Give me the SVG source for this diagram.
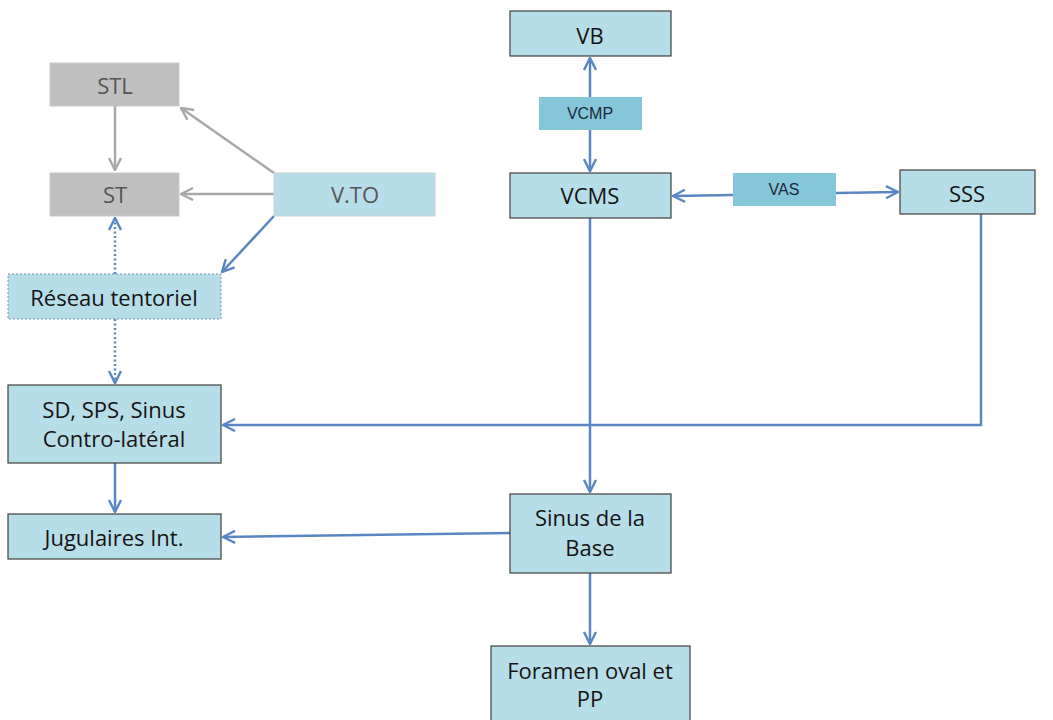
<svg xmlns="http://www.w3.org/2000/svg" width="1053" height="720" viewBox="0 0 1053 720">
<style>
.box{fill:#b7dde8;stroke:#3f3f3f;stroke-width:1.2}
.boxl{fill:#b7dde8;stroke:#c8d4d8;stroke-width:1}
.dot{fill:#b7dde8;stroke:#6f93b8;stroke-width:1;stroke-dasharray:2 2}
.gray{fill:#bfbfbf;stroke:#c9c9c9;stroke-width:1}
.lab{fill:#85c6d8}
.t{font-family:"Open Sans","Noto Sans",sans-serif;font-size:22px;fill:#141414;text-anchor:middle}
.tg{font-family:"Open Sans","Noto Sans",sans-serif;font-size:22px;fill:#555;text-anchor:middle}
.ts{font-family:"Liberation Sans",Arial,sans-serif;font-size:16px;fill:#1a2a3a;text-anchor:middle}
.c{fill:none;stroke:#5a86c4;stroke-width:2.5}
.cg{fill:none;stroke:#a8a8a8;stroke-width:2.5}
.cd{fill:none;stroke:#5a86c4;stroke-width:2.5;stroke-dasharray:2 2.5}
</style>
<defs>
<marker id="a" viewBox="0 0 14 14" refX="13" refY="7" markerWidth="14" markerHeight="14" markerUnits="userSpaceOnUse" orient="auto-start-reverse">
<path d="M1,1 L13,7 L1,13" fill="none" stroke="#5a86c4" stroke-width="2.4"/>
</marker>
<marker id="ag" viewBox="0 0 14 14" refX="13" refY="7" markerWidth="14" markerHeight="14" markerUnits="userSpaceOnUse" orient="auto-start-reverse">
<path d="M1,1 L13,7 L1,13" fill="none" stroke="#a8a8a8" stroke-width="2.4"/>
</marker>
</defs>
<rect width="1053" height="720" fill="#ffffff"/>
<g id="connectors">
<line class="cg" x1="115" y1="105" x2="115" y2="170" marker-end="url(#ag)"/>
<line class="cg" x1="274" y1="173" x2="181" y2="108" marker-end="url(#ag)"/>
<line class="cg" x1="274" y1="194" x2="181" y2="194" marker-end="url(#ag)"/>
<line class="c" x1="274" y1="216" x2="222" y2="272" marker-end="url(#a)"/>
<line class="cd" x1="115" y1="274" x2="115" y2="218" marker-end="url(#a)"/>
<line class="cd" x1="115" y1="319" x2="115" y2="383" marker-end="url(#a)"/>
<line class="c" x1="590" y1="97" x2="590" y2="58" marker-end="url(#a)"/>
<line class="c" x1="590" y1="130" x2="590" y2="171" marker-end="url(#a)"/>
<line class="c" x1="733" y1="195" x2="673" y2="196" marker-end="url(#a)"/>
<line class="c" x1="836" y1="193" x2="898" y2="192" marker-end="url(#a)"/>
<line class="c" x1="590" y1="218" x2="590" y2="492" marker-end="url(#a)"/>
<polyline class="c" points="981,214 981,425 223,425" marker-end="url(#a)"/>
<line class="c" x1="115" y1="463" x2="115" y2="512" marker-end="url(#a)"/>
<line class="c" x1="510" y1="533" x2="223" y2="537" marker-end="url(#a)"/>
<line class="c" x1="590" y1="573" x2="590" y2="644" marker-end="url(#a)"/>
</g>
<g id="STL"><rect class="gray" x="50" y="63" width="129" height="43"/><text class="tg" x="115" y="94">STL</text></g>
<g id="ST"><rect class="gray" x="50" y="173" width="129" height="43"/><text class="tg" x="115" y="203">ST</text></g>
<g id="VTO"><rect class="boxl" x="274" y="173" width="161" height="43"/><text class="tg" x="355" y="203">V.TO</text></g>
<g id="Reseau"><rect class="dot" x="8" y="274" width="213" height="45"/><text class="t" x="114" y="306">Réseau tentoriel</text></g>
<g id="VB"><rect class="box" x="510" y="11" width="161" height="45"/><text class="t" x="590" y="44">VB</text></g>
<g id="VCMP"><rect class="lab" x="539" y="97" width="103" height="33"/><text class="ts" x="590" y="119">VCMP</text></g>
<g id="VCMS"><rect class="box" x="510" y="173" width="161" height="45"/><text class="t" x="590" y="204">VCMS</text></g>
<g id="VAS"><rect class="lab" x="733" y="173" width="103" height="33"/><text class="ts" x="784" y="195">VAS</text></g>
<g id="SSS"><rect class="box" x="900" y="170" width="135" height="44"/><text class="t" x="967" y="202">SSS</text></g>
<g id="SD"><rect class="box" x="8" y="385" width="213" height="78"/><text class="t" x="114" y="418">SD, SPS, Sinus</text><text class="t" x="114" y="447">Contro-latéral</text></g>
<g id="Jugulaires"><rect class="box" x="8" y="514" width="213" height="45"/><text class="t" x="114" y="546">Jugulaires Int.</text></g>
<g id="SinusBase"><rect class="box" x="510" y="494" width="161" height="79"/><text class="t" x="590" y="526">Sinus de la</text><text class="t" x="590" y="556">Base</text></g>
<g id="Foramen"><rect class="box" x="491" y="646" width="199" height="80"/><text class="t" x="590" y="679">Foramen oval et</text><text class="t" x="590" y="707">PP</text></g>
</svg>
